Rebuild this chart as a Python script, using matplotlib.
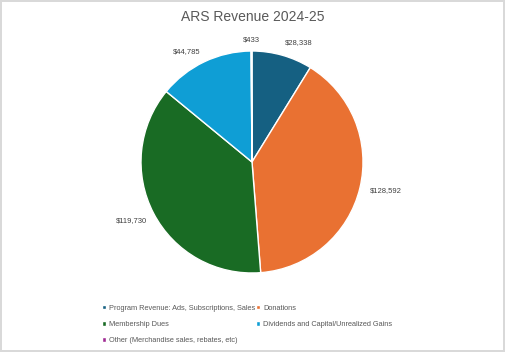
import matplotlib.pyplot as plt
import numpy as np

categories = ["Program Revenue: Ads, Subscriptions, Sales", "Donations",
              "Membership Dues", "Dividends and Capital/Unrealized Gains",
              "Other (Merchandise sales, rebates, etc)"]
values = [28338, 128592, 119730, 44785, 433]
labels = ["$28,338", "$128,592", "$119,730", "$44,785", "$433"]
colors = ["#156082", "#E97132", "#196B24", "#0F9ED5", "#A02B93"]

plt.rcParams['font.family'] = ['Liberation Sans', 'DejaVu Sans']

fig = plt.figure(figsize=(5.05, 3.52), dpi=100)
fig.patch.set_edgecolor('#d9d9d9')
fig.patch.set_linewidth(1.5)

ax = fig.add_axes([141 / 505, 79 / 352, 222 / 505, 222 / 352])
wedges, _ = ax.pie(values, colors=colors, startangle=90, counterclock=False,
                   radius=1, wedgeprops=dict(edgecolor='white', linewidth=1))
ax.set_xlim(-1, 1)
ax.set_ylim(-1, 1)
ax.set_aspect('equal')

# data labels outside the end of each slice
for w, lab in zip(wedges, labels):
    ang = np.deg2rad((w.theta1 + w.theta2) / 2)
    x, y = np.cos(ang), np.sin(ang)
    if abs(x) < 0.1:
        ha = 'center'
    else:
        ha = 'left' if x > 0 else 'right'
    va = 'bottom' if y > 0.3 else ('top' if y < -0.3 else 'center')
    d = 1.09 if ha == 'left' else 1.07
    ax.text(d * x, d * y, lab, ha=ha, va=va, fontsize=5.5,
            color='#404040', clip_on=False)

fig.text(0.5, 0.952, "ARS Revenue 2024-25", ha='center', va='center',
         fontsize=10, color='#595959')

order = [0, 2, 4, 1, 3]
fig.legend([wedges[i] for i in order], [categories[i] for i in order],
           ncol=2, loc='upper left', bbox_to_anchor=(95 / 505, 1 - 298 / 352),
           frameon=False, fontsize=5.3, handlelength=0.6, handleheight=0.6,
           handletextpad=0.4, columnspacing=0.1, labelspacing=1.25,
           labelcolor='#595959')

fig.savefig("out.png", dpi=100)
